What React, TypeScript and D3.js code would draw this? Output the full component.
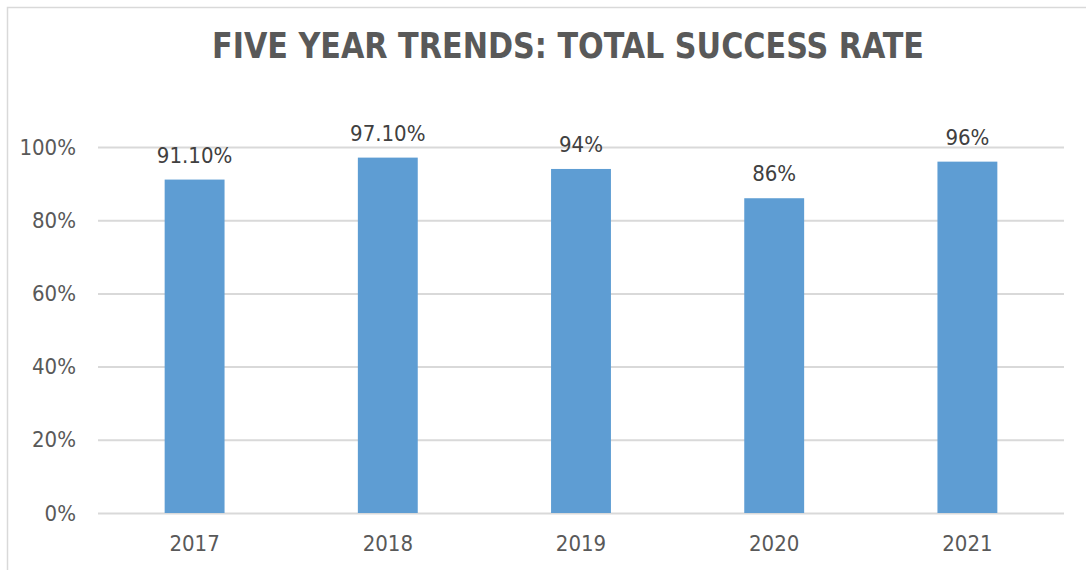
import { useEffect, useRef } from 'react';
import * as d3 from 'd3';

const YEARS = ['2017', '2018', '2019', '2020', '2021'];
const RATES = [91.1, 97.1, 94, 86, 96];
const RATE_LABELS = ['91.10%', '97.10%', '94%', '86%', '96%'];
const Y_TICKS = [0, 20, 40, 60, 80, 100];
const TITLE = 'FIVE YEAR TRENDS: TOTAL SUCCESS RATE';

const W = 1086;
const H = 570;
const FONT = '"DejaVu Sans Condensed", "DejaVu Sans", sans-serif';
const TEXT = '#595959';
const GRID = '#D9D9D9';
const BAR = '#5E9DD3';

export default function App() {
  const svgRef = useRef<SVGSVGElement>(null);

  useEffect(() => {
    const svg = d3.select(svgRef.current);
    svg.selectAll('*').remove();

    const plot = { left: 98, right: 1064, top: 147, bottom: 513 };
    const x = d3.scaleBand().domain(YEARS).range([plot.left, plot.right]).paddingInner(0.69).paddingOuter(0.345);
    const y = d3.scaleLinear().domain([0, 100]).range([plot.bottom, plot.top]);

    svg.append('rect').attr('width', W).attr('height', H).attr('fill', '#fff');
    // chart area border (clipped right/bottom)
    svg.append('path').attr('d', `M7.5,${H + 5}V7.5H${W + 5}`)
      .attr('fill', 'none').attr('stroke', GRID).attr('stroke-width', 1.5);

    svg.append('text').attr('x', 568).attr('y', 58).attr('text-anchor', 'middle')
      .attr('font-family', FONT).attr('font-weight', 'bold').attr('font-size', 35)
      .attr('textLength', 712).attr('lengthAdjust', 'spacingAndGlyphs')
      .attr('fill', TEXT).text(TITLE);

    const yAxis = svg.append('g').attr('transform', `translate(${plot.left},0)`)
      .call(d3.axisLeft(y).tickValues(Y_TICKS).tickFormat((d) => `${d}%`)
        .tickSize(-(plot.right - plot.left)).tickPadding(22));
    yAxis.select('.domain').remove();
    yAxis.selectAll('line').attr('stroke', GRID).attr('stroke-width', 2);
    yAxis.selectAll('text').attr('font-family', FONT).attr('font-size', 22).attr('fill', TEXT);

    const xAxis = svg.append('g').attr('transform', `translate(0,${plot.bottom})`)
      .call(d3.axisBottom(x).tickSize(0).tickPadding(22));
    xAxis.select('.domain').remove();
    xAxis.selectAll('text').attr('font-family', FONT).attr('font-size', 22).attr('fill', TEXT);

    svg.append('g').selectAll('rect').data(RATES).join('rect')
      .attr('x', (_, i) => x(YEARS[i])!)
      .attr('y', (d) => y(d))
      .attr('width', x.bandwidth())
      .attr('height', (d) => y(0) - y(d))
      .attr('fill', BAR);

    svg.append('g').selectAll('text').data(RATES).join('text')
      .attr('x', (_, i) => x(YEARS[i])! + x.bandwidth() / 2)
      .attr('y', (d) => y(d) - 17)
      .attr('text-anchor', 'middle')
      .attr('font-family', FONT).attr('font-size', 22).attr('fill', '#404040')
      .text((_, i) => RATE_LABELS[i]);
  }, []);

  return <svg ref={svgRef} width={W} height={H} style={{ position: 'absolute', left: 0, top: 0, display: 'block' }} />;
}
